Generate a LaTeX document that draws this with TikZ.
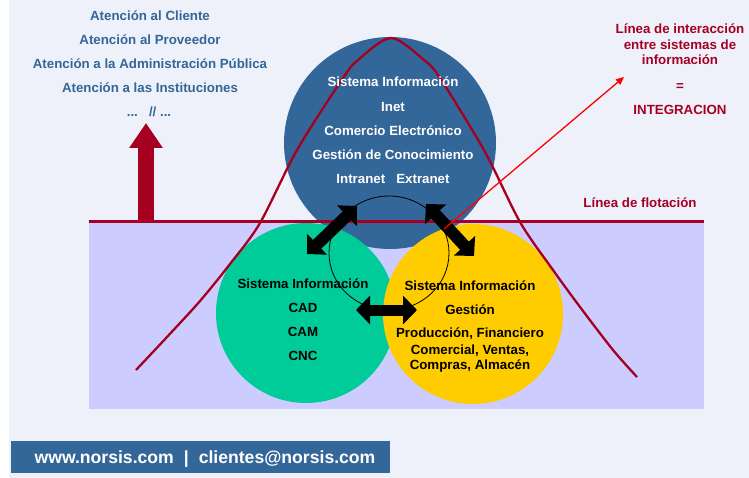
\documentclass[tikz,border=0pt]{standalone}
\usepackage{fontspec}
\setmainfont{Liberation Sans}
\usepackage{tikz}
\usetikzlibrary{arrows.meta,positioning,calc}
\definecolor{norsisblue}{RGB}{51,102,153}
\definecolor{floatred}{RGB}{165,0,33}
\definecolor{pagebg}{RGB}{238,241,250}
\definecolor{waterblue}{RGB}{204,204,255}
\definecolor{cadgreen}{RGB}{0,204,153}
\definecolor{erpyellow}{RGB}{255,204,0}

\begin{document}
\begin{tikzpicture}[x=1pt,y=-1pt,
    txt/.style={font=\fontsize{13.3}{15}\selectfont\bfseries, inner sep=0pt, anchor=base},
    sysball/.style={circle, inner sep=0pt, minimum size=#1},
    bigtip/.style={{Triangle[length=14pt,width=28pt]}-{Triangle[length=14pt,width=28pt]}, line width=12pt}]

    \useasboundingbox (0,0) rectangle (749,478);
    \fill[white] (0,0) rectangle (749,478);
    \fill[pagebg] (9,0) rectangle (749,478);

    % water below the floating line
    \fill[waterblue] (89,222) rectangle (704,409);

    % the three systems
    \node [sysball=212pt, fill=norsisblue] (inet) at (390,143) {};
    \node [sysball=180pt, fill=cadgreen] (cad) at (306,313) {};
    \node [sysball=180pt, fill=erpyellow] (erp) at (473,314) {};

    \draw[floatred, line width=3pt] (89,222) -- (704,222);

    % bell curve
    \draw[floatred, line width=2.3pt] plot[smooth] coordinates {(136,370) (167,337) (200,301) (230,264)
        (260,223) (297,150) (343,78) (358,60) (391,38) (424,60) (440,78) (485,152) (520,222)
        (553,270) (580,307) (613,350) (637,377)};

    \draw[black, line width=0.8pt] (389,253) ellipse [x radius=60, y radius=57];

    % connections between systems
    \coordinate (inetL) at (357,206);
    \coordinate (cadT) at (307,254);
    \coordinate (inetR) at (426,204);
    \coordinate (erpT) at (474,256);
    \coordinate (cadR) at (356,310);
    \coordinate (erpL) at (417,310);
    \draw[bigtip] (cadT) -- (inetL);
    \draw[bigtip] (erpT) -- (inetR);
    \draw[bigtip, line width=11pt] (cadR) -- (erpL);

    % left up arrow
    \coordinate (upBase) at (146,222);
    \coordinate (upTip) at (146,123);
    \draw[floatred, line width=16pt, -{Triangle[length=25pt,width=32pt]}] (upBase) -- (upTip);

    % texts
    \node [txt, norsisblue] (at1) at (150,21) {Atención al Cliente};
    \node [txt, norsisblue] (at2) at (150,45) {Atención al Proveedor};
    \node [txt, norsisblue] (at3) at (150,68.5) {Atención a la Administración Pública};
    \node [txt, norsisblue] (at4) at (150,92.5) {Atención a las Instituciones};
    \node [txt, norsisblue] (at5) at (149,116.5) {...\ \ \ // ...};

    \node [txt, white] (in1) at (393,87) {Sistema Información};
    \node [txt, white] (in2) at (393,111.5) {Inet};
    \node [txt, white] (in3) at (393,136) {Comercio Electrónico};
    \node [txt, white] (in4) at (393,160) {Gestión de Conocimiento};
    \node [txt, white] (in5) at (393,183.5) {Intranet\ \ \ Extranet};

    \node [txt] (cd1) at (303,288.5) {Sistema Información};
    \node [txt] (cd2) at (303,312.5) {CAD};
    \node [txt] (cd3) at (303,336.7) {CAM};
    \node [txt] (cd4) at (303,360.7) {CNC};

    \node [txt] (ge1) at (470,290) {Sistema Información};
    \node [txt] (ge2) at (470,314) {Gestión};
    \node [txt] (ge3) at (470,337.7) {Producción, Financiero};
    \node [txt] (ge4) at (470,354) {Comercial, Ventas,};
    \node [txt] (ge5) at (470,369.3) {Compras, Almacén};

    \node [txt, floatred] (li1) at (680,34) {Línea de interacción};
    \node [txt, floatred] (li2) at (680,49.5) {entre sistemas de};
    \node [txt, floatred] (li3) at (680,65) {información};
    \node [txt, floatred] (li4) at (680,91) {=};
    \node [txt, floatred] (li5) at (680,114.3) {INTEGRACION};
    \node [txt, floatred] (flot) at (640,207.5) {Línea de flotación};

    % integration pointer
    \coordinate (meet) at (444,229);
    \coordinate (intTip) at (624,77);
    \draw[red, line width=1.3pt, -{Triangle[length=8pt,width=7pt]}] (meet) -- (intTip);

    % footer
    \node [fill=norsisblue, minimum width=379pt, minimum height=32pt, inner sep=0pt] (bar) at (200.5,457) {};
    \node [txt, white, font=\fontsize{17.6}{20}\selectfont\bfseries] (footer) at (205,463)
        {www.norsis.com\hspace{10pt}|\hspace{10pt}clientes@norsis.com};
\end{tikzpicture}
\end{document}
